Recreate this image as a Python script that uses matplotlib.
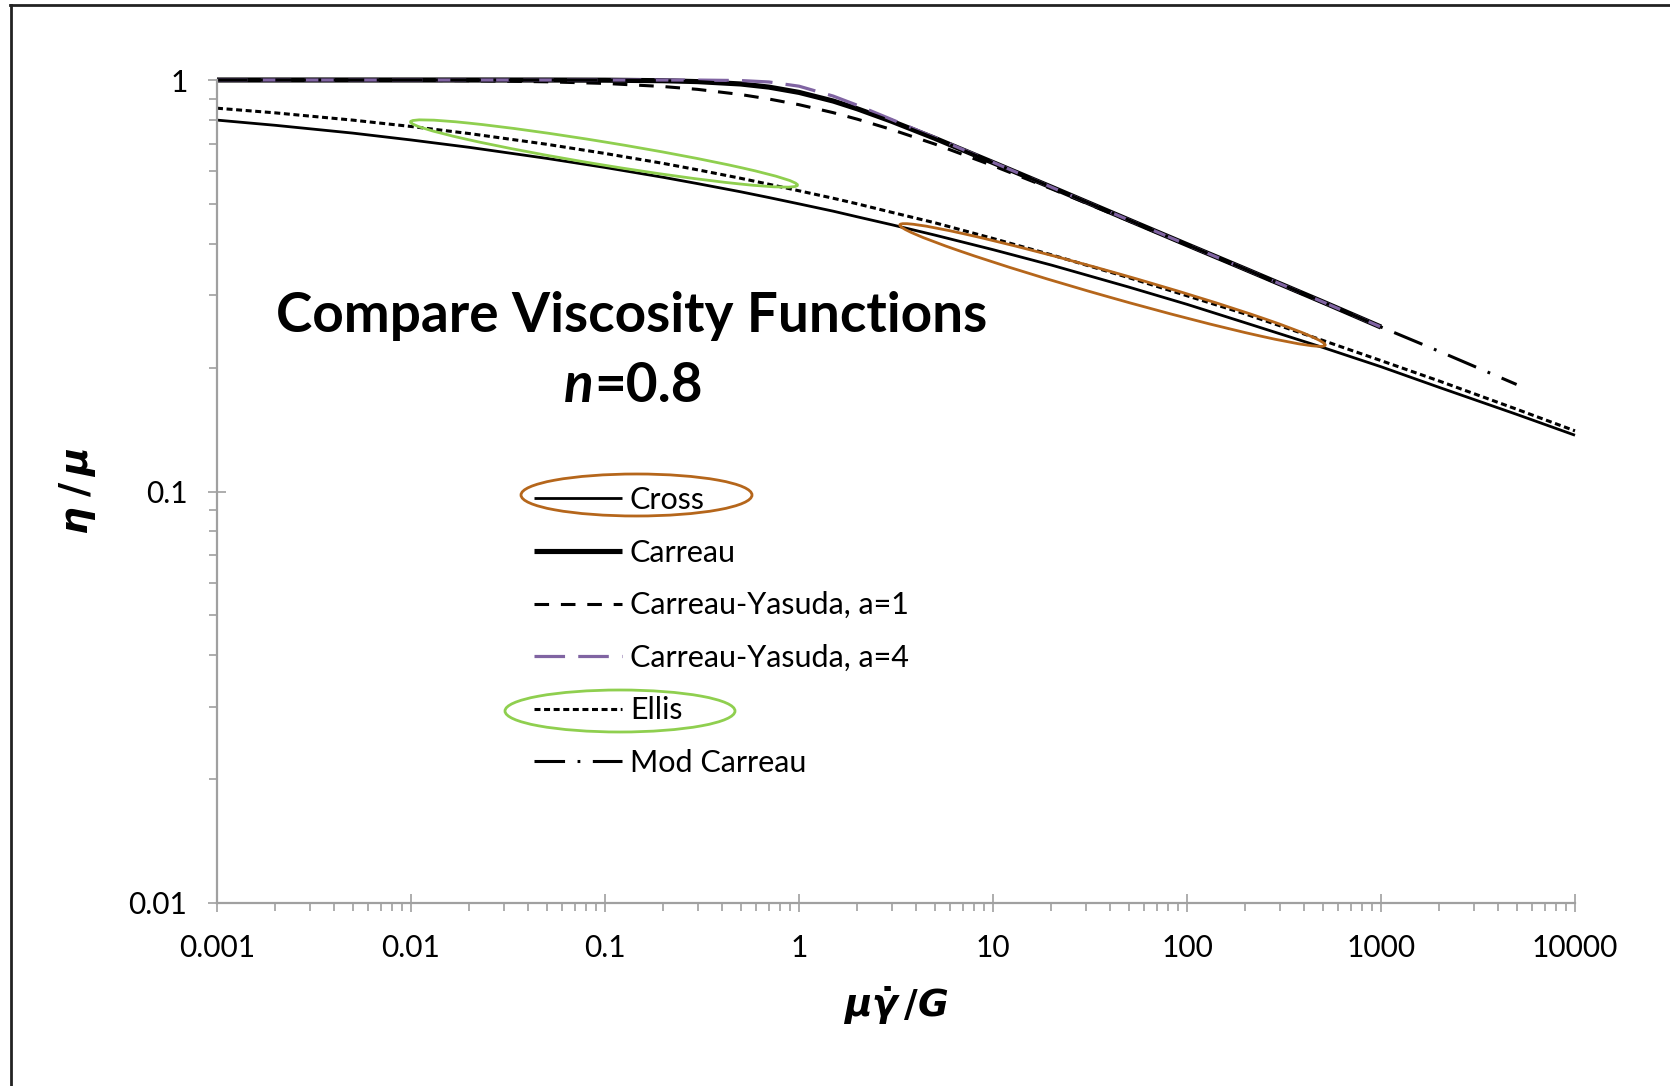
import numpy as np
import matplotlib
matplotlib.use("Agg")
import matplotlib.pyplot as plt
from matplotlib.lines import Line2D
from matplotlib.patches import Ellipse
from matplotlib.transforms import IdentityTransform
from matplotlib.ticker import FixedLocator, FixedFormatter, LogLocator, NullFormatter

# ---------------- data ----------------
nan = np.nan
shear = [0.001, 0.002, 0.005, 0.01, 0.02, 0.05, 0.1, 0.2, 0.3, 0.5, 0.7, 1, 1.5, 2, 3, 5,
         10, 20, 50, 100, 200, 500, 1000, 2000, 5000, 10000]

cross = [0.799, 0.776, 0.743, 0.715, 0.686, 0.645, 0.613, 0.580, 0.560, 0.535, 0.518, 0.500,
         0.480, 0.465, 0.445, 0.420, 0.387, 0.355, 0.314, 0.285, 0.257, 0.224, 0.201, 0.179,
         0.154, 0.137]
carreau = [1.0, 1.0, 1.0, 1.0, 1.0, 0.9998, 0.999, 0.996, 0.991, 0.978, 0.961, 0.933,
           0.889, 0.851, 0.794, 0.722, 0.630, 0.549, 0.457, 0.398, 0.347, 0.289, 0.251,
           nan, nan, nan]
cy_a1 = [0.9998, 0.9996, 0.999, 0.998, 0.996, 0.990, 0.981, 0.964, 0.949, 0.922, 0.899, 0.871,
         0.833, 0.803, 0.758, 0.699, 0.619, 0.544, 0.455, 0.397, 0.346, 0.288, 0.251,
         nan, nan, nan]
cy_a4 = [1.0, 1.0, 1.0, 1.0, 1.0, 1.0, 1.0, 1.0, 0.9996, 0.997, 0.989, 0.966,
         0.914, 0.868, 0.802, 0.725, 0.631, 0.549, 0.457, 0.398, 0.347, 0.289, 0.251,
         nan, nan, nan]
ellis = [0.854, 0.832, 0.799, 0.771, 0.741, 0.698, 0.663, 0.627, 0.605, 0.577, 0.558, 0.538,
         0.516, 0.500, 0.477, 0.450, 0.412, 0.376, 0.331, 0.299, 0.270, 0.233, 0.208, 0.1855,
         0.1585, 0.1404]
mod_carreau = [1.0, 1.0, 1.0, 1.0, 1.0, 0.9998, 0.999, 0.996, 0.991, 0.978, 0.961, 0.933,
               0.889, 0.851, 0.794, 0.722, 0.630, 0.549, 0.457, 0.398, 0.347, 0.289, 0.251,
               0.219, 0.182, nan]

series_names = ["Cross", "Carreau", "Carreau-Yasuda, a=1", "Carreau-Yasuda, a=4", "Ellis", "Mod Carreau"]

x_ticks = [0.001, 0.01, 0.1, 1, 10, 100, 1000, 10000]
x_tick_labels = ["0.001", "0.01", "0.1", "1", "10", "100", "1000", "10000"]
y_ticks = [0.01, 0.1, 1]
y_tick_labels = ["0.01", "0.1", "1"]

title_line1 = "Compare Viscosity Functions"
title_n = "n"
title_rest = "=0.8"

# ---------------- style ----------------
plt.rcParams["font.family"] = ["Lato", "DejaVu Sans"]
plt.rcParams["lines.scale_dashes"] = False
plt.rcParams["mathtext.fontset"] = "custom"
plt.rcParams["mathtext.it"] = "DejaVu Sans:italic:bold"
plt.rcParams["mathtext.rm"] = "DejaVu Sans:bold"
plt.rcParams["mathtext.bf"] = "DejaVu Sans:bold"

W, H = 1670, 1086
fig = plt.figure(figsize=(W / 100, H / 100), dpi=100)
L, R, T, B = 217, 1575, 80, 903
ax = fig.add_axes([L / W, 1 - B / H, (R - L) / W, (B - T) / H])

grey = "#a0a0a0"
purple = "#8064a2"

styles = [
    dict(color="black", lw=2.0, ls="-"),
    dict(color="black", lw=3.7, ls="-"),
    dict(color="black", lw=2.2, ls=(0, (10.5, 8.5))),
    dict(color=purple, lw=2.3, ls=(0, (22, 9.5))),
    dict(color="black", lw=2.2, ls=(0, (4.3, 2.6))),
    dict(color="black", lw=2.2, ls=(0, (22, 9, 2, 9))),
]
data = [cross, carreau, cy_a1, cy_a4, ellis, mod_carreau]
handles = []
for name, ys, st in zip(series_names, data, styles):
    ln, = ax.plot(shear, ys, label=name, clip_on=False, solid_capstyle="butt",
                  dash_capstyle="butt", **st)
    handles.append(ln)

ax.set_xscale("log")
ax.set_yscale("log")
ax.set_xlim(0.001, 10000)
ax.set_ylim(0.01, 1)

for s in ["top", "right"]:
    ax.spines[s].set_visible(False)
for s in ["left", "bottom"]:
    ax.spines[s].set_color(grey)
    ax.spines[s].set_linewidth(1.6)

ax.xaxis.set_major_locator(FixedLocator(x_ticks))
ax.xaxis.set_major_formatter(FixedFormatter(x_tick_labels))
ax.yaxis.set_major_locator(FixedLocator(y_ticks))
ax.yaxis.set_major_formatter(FixedFormatter(y_tick_labels))
ax.xaxis.set_minor_locator(LogLocator(base=10, subs=np.arange(2, 10), numticks=20))
ax.yaxis.set_minor_locator(LogLocator(base=10, subs=np.arange(2, 10), numticks=20))
ax.xaxis.set_minor_formatter(NullFormatter())
ax.yaxis.set_minor_formatter(NullFormatter())

ax.tick_params(which="major", direction="inout", length=13.5, width=1.2, color=grey,
               labelsize=21.5, labelcolor="black")
ax.tick_params(which="minor", direction="out", length=5.5, width=1.2, color=grey)
ax.tick_params(axis="x", which="major", pad=15.5)
ax.tick_params(axis="y", which="major", pad=14.5)

ax.set_xlabel(r"$\mu\dot{\gamma}\,/G$", fontsize=27)
ax.xaxis.set_label_coords(0.5, -(1006 - B) / (B - T))
ax.xaxis.label.set_va("center")
ax.set_ylabel(r"$\eta\;/\,\mu$", fontsize=28)
ax.yaxis.set_label_coords(-(L - 77) / (R - L), 0.5)
ax.yaxis.label.set_va("center")

# titles inside the plot
fig.text(632 / W, 1 - 332 / H, title_line1, ha="center", va="baseline",
         fontsize=39.5, fontweight="bold")
t_n = fig.text(0, 1 - 402 / H, title_n, ha="left", va="baseline",
               fontsize=39.5, fontweight="bold", style="italic")
t_rest = fig.text(0, 1 - 402 / H, title_rest, ha="left", va="baseline",
                  fontsize=39.5, fontweight="bold")
fig.canvas.draw()
r = fig.canvas.get_renderer()
wn = t_n.get_window_extent(r).width
wr = t_rest.get_window_extent(r).width
x0 = 633 - (wn + wr) / 2
t_n.set_x(x0 / W)
t_rest.set_x((x0 + wn + 1) / W)

# legend
leg = ax.legend(handles=handles, loc="upper left",
                bbox_to_anchor=(534 / W, 1 - 486 / H), bbox_transform=fig.transFigure,
                frameon=False, fontsize=22, handlelength=2.88, handletextpad=0.26,
                labelspacing=0.805, borderpad=0, borderaxespad=0)

# annotation ellipses (pixel coordinates of the image)
def ell(cx, cy, w, h, ang, color):
    e = Ellipse((cx, H - cy), w, h, angle=ang, fill=False, edgecolor=color, lw=2.0,
                transform=IdentityTransform())
    fig.add_artist(e)

brown = "#b5661b"
green = "#8fcf4f"
ell(604, 153.5, 392, 23, -9.3, green)
ell(1112.5, 285, 442, 25, -15.8, brown)
ell(636.5, 495, 231, 42, 0, brown)
ell(620, 711, 230, 42, 0, green)

# outer frame (top and left edges visible)
fig.add_artist(Line2D([10.5, 10.5], [0, H - 5], color="#222222", lw=2.0,
                      transform=IdentityTransform()))
fig.add_artist(Line2D([10, W], [H - 5, H - 5], color="#222222", lw=2.0,
                      transform=IdentityTransform()))

fig.savefig("out.png", dpi=100)
